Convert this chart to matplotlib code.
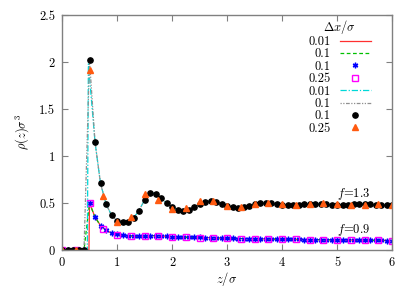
import matplotlib
matplotlib.use("Agg")
import matplotlib.pyplot as plt
from matplotlib.ticker import FuncFormatter, MultipleLocator

plt.rcParams['font.family'] = 'serif'
plt.rcParams['font.serif'] = ['cmr10']
plt.rcParams['mathtext.fontset'] = 'cm'
plt.rcParams['axes.formatter.use_mathtext'] = True

# z grids
z_01 = [round(0.1 * i, 1) for i in range(61)]
z_025 = [0.25 * i for i in range(25)]

# f = 0.9, dx = 0.1
rho09_01 = [0, 0, 0, 0, 0, 0.50, 0.35, 0.26, 0.21, 0.18,
            0.165, 0.155, 0.15, 0.148, 0.148, 0.15, 0.152, 0.152, 0.15, 0.145,
            0.14, 0.138, 0.136, 0.135, 0.134, 0.133, 0.132, 0.13, 0.128, 0.126,
            0.124, 0.123, 0.122, 0.121, 0.12, 0.119, 0.118, 0.117, 0.116, 0.115,
            0.114, 0.113, 0.112, 0.112, 0.111, 0.11, 0.11, 0.109, 0.108, 0.108,
            0.107, 0.106, 0.106, 0.105, 0.104, 0.104, 0.103, 0.102, 0.102, 0.101,
            0.10]
# f = 0.9, dx = 0.25
rho09_025 = [0, 0, 0.50, 0.22, 0.155, 0.145, 0.15, 0.15, 0.14, 0.135,
             0.132, 0.128, 0.124, 0.121, 0.119, 0.116, 0.114, 0.112, 0.11, 0.109,
             0.107, 0.105, 0.104, 0.102, 0.10]

# f = 1.3, dx = 0.1
rho13_01 = [0, 0, 0, 0, 0, 2.02, 1.15, 0.71, 0.49, 0.37,
            0.31, 0.295, 0.30, 0.34, 0.42, 0.53, 0.61, 0.60, 0.555, 0.50,
            0.455, 0.43, 0.42, 0.43, 0.455, 0.49, 0.515, 0.52, 0.51, 0.49,
            0.47, 0.455, 0.45, 0.455, 0.47, 0.485, 0.495, 0.50, 0.495, 0.49,
            0.48, 0.475, 0.475, 0.48, 0.485, 0.49, 0.49, 0.49, 0.485, 0.48,
            0.48, 0.48, 0.48, 0.485, 0.49, 0.49, 0.485, 0.48, 0.48, 0.48,
            0.48]
# f = 1.3, dx = 0.25
rho13_025 = [0, 0, 1.92, 0.57, 0.30, 0.35, 0.60, 0.53, 0.44, 0.45,
             0.52, 0.52, 0.47, 0.455, 0.49, 0.50, 0.49, 0.48, 0.49, 0.50,
             0.49, 0.48, 0.48, 0.49, 0.48]

# dx = 0.01 curves: sharp wall rise, then following the profile
z_fine09 = [0.0, 0.49] + z_01[5:]
rho_fine09 = [0, 0] + rho09_01[5:]
z_fine13 = [0.0, 0.46, 0.48] + z_01[6:]
rho_fine13 = [0, 0, 1.98] + rho13_01[6:]

fig = plt.figure(figsize=(4.15, 2.91), dpi=100)
ax = fig.add_axes([62 / 415, 1 - 250 / 291, 330 / 415, 235 / 291])

ax.plot(z_fine09, rho_fine09, color='#ff3030', lw=0.9, label='0.01')
ax.plot(z_01, rho09_01, color='#00c000', lw=0.9, ls=(0, (3, 2)), label='0.1')
ax.plot(z_01, rho09_01, ls='none', marker=(6, 2, 0), ms=4, mew=1.0,
        color='#0000ff', label='0.1')
ax.plot(z_025, rho09_025, ls='none', marker='s', ms=3.8, mew=1.0,
        mfc='none', mec='#ff00ff', label='0.25')
ax.plot(z_fine13, rho_fine13, color='#00d8d8', lw=0.9,
        ls=(0, (5, 1.5, 1, 1.5)), label='0.01')
ax.plot(z_01, rho13_01, color='#909090', lw=0.9,
        ls=(0, (1, 1.2, 1, 1.2, 3, 1.2)), label='0.1')
ax.plot(z_01, rho13_01, ls='none', marker='o', ms=3.8, color='black',
        label='0.1')
ax.plot(z_025, rho13_025, ls='none', marker='^', ms=4.5, color='#ff5a10',
        label='0.25')

ax.set_xlim(0, 6)
ax.set_ylim(0, 2.5)
ax.xaxis.set_major_locator(MultipleLocator(1))
ax.yaxis.set_major_locator(MultipleLocator(0.5))
fmt = FuncFormatter(lambda v, p: '%g' % v)
ax.xaxis.set_major_formatter(fmt)
ax.yaxis.set_major_formatter(fmt)
ax.tick_params(direction='in', length=4, width=0.8, color='#808080',
               top=True, right=True, labelsize=9, pad=5)
for s in ax.spines.values():
    s.set_color('#808080')
    s.set_linewidth(1.0)

ax.set_xlabel(r'$z/\sigma$', fontsize=9, labelpad=1)
ax.set_ylabel(r'$\rho(z)\sigma^3$', fontsize=9, labelpad=6)

ax.text(5.0, 0.6, r'$f$=1.3', fontsize=9, ha='left', va='center')
ax.text(5.0, 0.21, r'$f$=0.9', fontsize=9, ha='left', va='center')

leg = ax.legend(title=r'$\Delta x/\sigma$', loc='upper right',
                bbox_to_anchor=(0.955, 1.015), frameon=False, fontsize=9,
                title_fontsize=9, markerfirst=False, handlelength=2.5,
                handletextpad=0.7, labelspacing=0.02, borderpad=0.0)

fig.savefig('out.png', dpi=100)
